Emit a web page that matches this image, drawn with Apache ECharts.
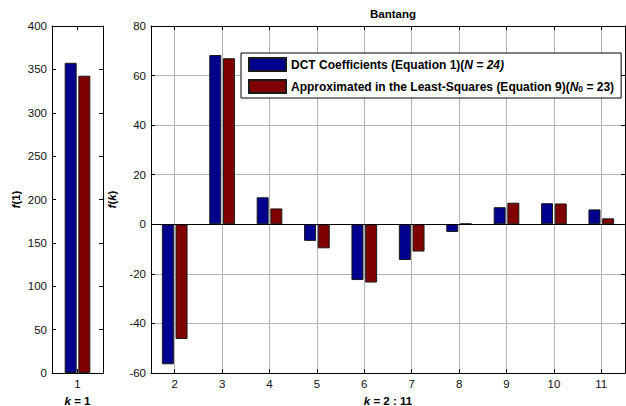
<!DOCTYPE html>
<html>
<head>
<meta charset="utf-8">
<script src="https://cdn.jsdelivr.net/npm/echarts@6/dist/echarts.min.js"></script>
<style>
  html, body { margin: 0; padding: 0; background: #fff; }
  #chart { width: 626px; height: 406px; }
</style>
</head>
<body>
<div id="chart"></div>
<script>
// k = 1 panel
const firstCategory = ['1']
const dctFirst = [357.6]
const lsqFirst = [342.7]

// k = 2 : 11 panel
const restCategories = ['2', '3', '4', '5', '6', '7', '8', '9', '10', '11']
const dctRest = [-56.5, 68.3, 10.9, -6.7, -22.5, -14.4, -3.1, 6.9, 8.5, 6.0]
const lsqRest = [-46.3, 67.0, 6.4, -9.7, -23.5, -11.0, 0.3, 8.7, 8.4, 2.4]

const nameDct = 'DCT Coefficients (Equation 1)(N = 24)'
const nameLsq = 'Approximated in the Least-Squares (Equation 9)(N0 = 23)'

const FONT = 'Liberation Sans, Arial, sans-serif'
const BLUE = '#00008f'
const RED = '#800000'

const boldRich = {
  b: { fontFamily: FONT, fontWeight: 'bold', fontSize: 11.5, color: '#000' },
  i: { fontFamily: FONT, fontWeight: 'bold', fontStyle: 'italic', fontSize: 11.5, color: '#000' }
}

const axisLine = { show: true, onZero: false, lineStyle: { color: '#000', width: 1 } }
const tick = { show: true, inside: true, length: 4, alignWithLabel: true, lineStyle: { color: '#000' } }
const label = { color: '#111', fontFamily: FONT, fontSize: 11.5 }

const catAxis = (grid, data, pos, extra) => Object.assign({
  type: 'category', gridIndex: grid, data: data, position: pos,
  axisLine: axisLine, axisTick: tick,
  axisLabel: pos === 'bottom' ? Object.assign({ margin: 5 }, label) : { show: false },
  splitLine: { show: false }
}, extra || {})

const valAxis = (grid, min, max, interval, pos, extra) => Object.assign({
  type: 'value', gridIndex: grid, min: min, max: max, interval: interval, position: pos,
  axisLine: axisLine, axisTick: { show: true, inside: true, length: 4, lineStyle: { color: '#000' } },
  axisLabel: pos === 'left' ? Object.assign({ margin: 5 }, label) : { show: false },
  splitLine: { show: false }
}, extra || {})

const barStyle = (color) => ({ color: color, borderColor: '#1a1a1a', borderWidth: 1 })

const chart = echarts.init(document.getElementById('chart'), null, { renderer: 'svg' })

chart.setOption({
  animation: false,
  backgroundColor: '#fff',
  title: {
    text: 'Bantang', left: 388, top: 3, textAlign: 'center',
    textStyle: { fontFamily: FONT, fontWeight: 'bold', fontSize: 11.5, color: '#000' }
  },
  legend: {
    data: [nameDct, nameLsq],
    orient: 'vertical',
    left: 241, top: 53,
    padding: [4, 7, 4, 7],
    itemWidth: 37, itemHeight: 13, itemGap: 7,
    icon: 'rect',
    backgroundColor: '#fff',
    borderColor: '#000', borderWidth: 1, borderRadius: 0,
    selectedMode: false,
    formatter: (name) => name === nameDct
      ? '{b|DCT Coefficients (Equation 1)(}{i|N = 24)}'
      : '{b|Approximated in the Least-Squares (Equation 9)(}{i|N}{s|0}{b| = 23)}',
    textStyle: {
      rich: {
        b: { fontFamily: FONT, fontWeight: 'bold', fontSize: 12, color: '#000', lineHeight: 14 },
        i: { fontFamily: FONT, fontWeight: 'bold', fontStyle: 'italic', fontSize: 12, color: '#000', lineHeight: 14 },
        s: { fontFamily: FONT, fontWeight: 'bold', fontSize: 8.5, color: '#000', lineHeight: 8, verticalAlign: 'bottom' }
      }
    }
  },
  grid: [
    { left: 52, right: 523, top: 26, bottom: 33, outerBoundsMode: 'none' },
    { left: 151, right: 1, top: 26, bottom: 33, outerBoundsMode: 'none' }
  ],
  xAxis: [
    catAxis(0, firstCategory, 'bottom', {
      name: '{i|k}{b| = 1}', nameLocation: 'middle', nameGap: 20, nameTextStyle: { rich: boldRich }
    }),
    catAxis(0, firstCategory, 'top'),
    catAxis(1, restCategories, 'bottom', {
      name: '{i|k}{b| = 2 : 11}', nameLocation: 'middle', nameGap: 20, nameTextStyle: { rich: boldRich },
      splitLine: { show: true, alignWithLabel: true, lineStyle: { color: '#b4b4b4', width: 1 } }
    }),
    catAxis(1, restCategories, 'top')
  ],
  yAxis: [
    valAxis(0, 0, 400, 50, 'left', {
      name: '{i|f}{b|(1)}', nameLocation: 'middle', nameGap: 30, nameRotate: 90,
      nameTextStyle: { rich: boldRich }
    }),
    valAxis(0, 0, 400, 50, 'right'),
    valAxis(1, -60, 80, 20, 'left', {
      name: '{i|f}{b|(}{i|k}{b|)}', nameLocation: 'middle', nameGap: 23, nameRotate: 90,
      nameTextStyle: { rich: boldRich },
      splitLine: { show: true, lineStyle: { color: '#b4b4b4', width: 1 } }
    }),
    valAxis(1, -60, 80, 20, 'right')
  ],
  series: [
    {
      name: nameDct, type: 'bar', xAxisIndex: 0, yAxisIndex: 0, data: dctFirst,
      barWidth: 12, barGap: '14%', itemStyle: barStyle(BLUE)
    },
    {
      name: nameLsq, type: 'bar', xAxisIndex: 0, yAxisIndex: 0, data: lsqFirst,
      barWidth: 12, barGap: '14%', itemStyle: barStyle(RED)
    },
    {
      name: nameDct, type: 'bar', xAxisIndex: 2, yAxisIndex: 2, data: dctRest,
      barWidth: 12, barGap: '14%', itemStyle: barStyle(BLUE)
    },
    {
      name: nameLsq, type: 'bar', xAxisIndex: 2, yAxisIndex: 2, data: lsqRest,
      barWidth: 12, barGap: '14%', itemStyle: barStyle(RED),
      markLine: {
        silent: true, symbol: 'none', label: { show: false },
        lineStyle: { color: '#000', type: 'solid', width: 1 },
        data: [{ yAxis: 0 }]
      }
    }
  ]
})
</script>
</body>
</html>
